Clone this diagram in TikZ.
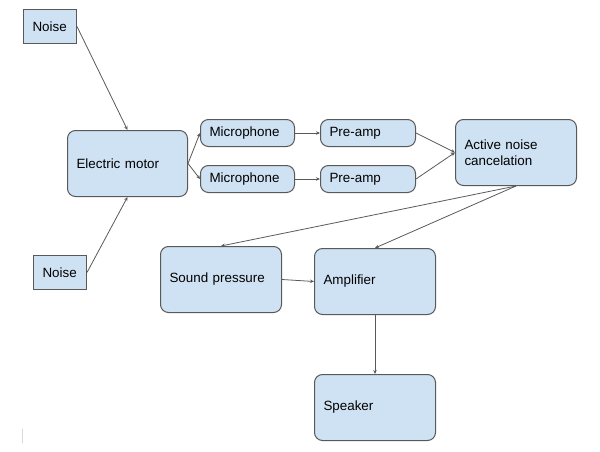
\documentclass[tikz,border=0pt]{standalone}
\usepackage{fontspec}
\setmainfont{Liberation Sans}
\usetikzlibrary{arrows.meta}
\definecolor{boxfill}{HTML}{CFE2F3}
\definecolor{boxline}{HTML}{595959}
\definecolor{arrline}{HTML}{595959}
\tikzset{
  x=1pt,y=-1pt,
  basebox/.style={draw=boxline, fill=boxfill, line width=1pt, font=\fontsize{13.4}{16}\selectfont,
    align=left, inner xsep=9pt, inner ysep=0pt, anchor=north west},
  rbox/.style={basebox, rounded corners=8pt},
  sbox/.style={basebox, inner xsep=7pt},
  conn/.style={draw=arrline, line width=0.8pt, -{Stealth[length=4pt,width=3.5pt]}},
}
\newcommand{\bx}[7]{% style, name, x1, y1, x2, y2, text
  \pgfmathsetmacro{\bw}{#5-#3}\pgfmathsetmacro{\bh}{#6-#4}
  \pgfmathsetmacro{\tw}{#5-#3-18}
  \node[#1, minimum width=\bw pt, minimum height=\bh pt, text width=\tw pt] (#2) at (#3,#4) {#7};}
\begin{document}
\begin{tikzpicture}
\useasboundingbox (0,0) rectangle (600,452);
\bx{sbox}{noiseA}{23}{9}{76}{43}{Noise}
\bx{sbox}{noiseB}{33}{255}{86}{289}{Noise}
\bx{rbox}{motor}{67}{130}{187}{196}{Electric motor}
\bx{rbox}{micA}{200}{119}{294}{146}{Microphone}
\bx{rbox}{micB}{200}{165}{294}{192}{Microphone}
\bx{rbox}{preA}{320}{119}{415}{146}{Pre-amp}
\bx{rbox}{preB}{320}{165}{415}{192}{Pre-amp}
\bx{rbox}{anc}{455}{119}{576}{185}{Active noise\\cancelation}
\bx{rbox}{sound}{160}{246}{281}{312}{Sound pressure}
\bx{rbox}{amp}{314}{248}{435}{314}{Amplifier}
\bx{rbox}{spk}{314}{374}{435}{440}{Speaker}
\draw[conn] (noiseA.east) -- (motor.north);
\draw[conn] (noiseB.east) -- (motor.south);
\draw[conn] (motor.east) -- (micA.west);
\draw[conn] (motor.east) -- (micB.west);
\draw[conn] (micA.east) -- (preA.west);
\draw[conn] (micB.east) -- (preB.west);
\draw[conn] (preA.east) -- (anc.west);
\draw[conn] (preB.east) -- (anc.west);
\draw[conn] (anc.south) -- (sound.north);
\draw[conn] (anc.south) -- (amp.north);
\draw[conn] (sound.east) -- (amp.west);
\draw[conn] (amp.south) -- (spk.north);
\coordinate (curA) at (22,429);
\coordinate (curB) at (22,443);
\draw[black!15, line width=0.8pt] (curA) -- (curB);
\end{tikzpicture}
\end{document}
